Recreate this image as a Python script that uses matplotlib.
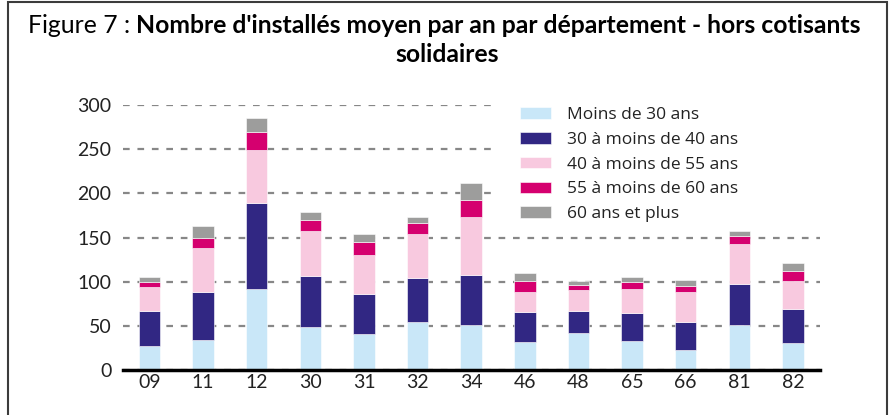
import numpy as np
import matplotlib
matplotlib.use('Agg')
import matplotlib.pyplot as plt
from matplotlib.patches import Rectangle

# départements et tranches d'âge
departements = ['09', '11', '12', '30', '31', '32', '34', '46', '48', '65', '66', '81', '82']
tranches = ['Moins de 30 ans', '30 à moins de 40 ans', '40 à moins de 55 ans',
            '55 à moins de 60 ans', '60 ans et plus']

moins_30 = [27, 34, 92, 49, 41, 54, 51.5, 32, 41.5, 33, 23, 51, 31]
de_30_40 = [40, 55, 97, 57, 45, 50, 56, 34, 25.5, 32, 32, 46, 38]
de_40_55 = [27.5, 49, 60, 52, 44, 49.5, 66, 23, 23.5, 26.5, 33, 46, 32]
de_55_60 = [5.5, 12, 21, 12, 15, 13, 18.5, 11.5, 6, 8, 7, 9, 11]
plus_60 = [5, 13, 15, 9.5, 8.5, 7, 19.5, 9, 4, 6, 7.5, 5.5, 9]

series = [moins_30, de_30_40, de_40_55, de_55_60, plus_60]
couleurs = ['#C9E7F8', '#312783', '#F8C9DF', '#D5006F', '#9D9D9C']

fig = plt.figure(figsize=(8.95, 4.15), dpi=100)
ax = fig.add_axes([0.137, 0.108, 0.779, 0.639])

x = np.arange(len(departements))
bas = np.zeros(len(departements))
for valeurs, nom, c in zip(series, tranches, couleurs):
    ax.bar(x, valeurs, width=0.4, bottom=bas, color=c, label=nom,
           edgecolor='white', linewidth=0.4, zorder=3)
    bas += np.array(valeurs)

ax.set_xlim(-0.5, 12.5)
ax.set_ylim(0, 300)
ax.set_yticks(range(0, 301, 50))
ax.set_xticks(x)
ax.set_xticklabels(departements)
ax.tick_params(axis='both', length=0, labelsize=14, labelcolor='#222222')
ax.tick_params(axis='y', pad=8)
ax.tick_params(axis='x', pad=3)
for lab in ax.get_xticklabels() + ax.get_yticklabels():
    lab.set_family('Lato')

ax.yaxis.grid(True, color='#878787', linestyle=(0, (3, 3.5)), linewidth=1.6)
ax.set_axisbelow(True)
for s in ['top', 'right', 'left']:
    ax.spines[s].set_visible(False)
ax.spines['bottom'].set_linewidth(2.5)
ax.spines['bottom'].set_color('black')
ax.spines['bottom'].set_zorder(4)

# fond blanc derrière la légende (masque les pointillés)
ax.add_patch(Rectangle((0.531, 0.55), 0.48, 0.48, transform=ax.transAxes,
                       facecolor='white', edgecolor='none', zorder=2, clip_on=False))

leg = ax.legend(loc='upper left', bbox_to_anchor=(0.562, 1.011), frameon=False,
                prop={'family': 'Open Sans', 'size': 12.5}, handlelength=1.8,
                handleheight=0.63, labelspacing=0.5, handletextpad=0.9,
                borderpad=0.3, borderaxespad=0)
leg.set_zorder(5)
for t in leg.get_texts():
    t.set_color('#222222')

# titre : "Figure 7 :" en normal, le reste en gras
taille = 16
t1 = fig.text(28 / 895, 1 - 33 / 415, 'Figure 7 : ', fontsize=taille,
              family='Lato', va='baseline')
t2 = ax.annotate("Nombre d'installés moyen par an par département - hors cotisants",
                 xy=(1, 0), xycoords=t1, va='bottom', fontsize=taille,
                 fontweight='bold', family='Lato', annotation_clip=False)
t3 = fig.text(0.5, 1 - 62 / 415, 'solidaires', fontsize=taille, fontweight='bold',
              family='Lato', ha='center', va='baseline')

# ajuster la taille pour que la première ligne aille de x=28 à x=866
fig.canvas.draw()
r = fig.canvas.get_renderer()
largeur = t2.get_window_extent(r).x1 - t1.get_window_extent(r).x0
taille = taille * (866 - 28) / largeur
for t in (t1, t2, t3):
    t.set_fontsize(taille)

# cadre autour de la figure
fig.patches.append(Rectangle((8 / 895, -0.05), 879 / 895, 1.05 - 2 / 415,
                             transform=fig.transFigure, fill=False,
                             edgecolor='#3c3c3c', linewidth=1.5))

fig.savefig('out.png', dpi=100)
